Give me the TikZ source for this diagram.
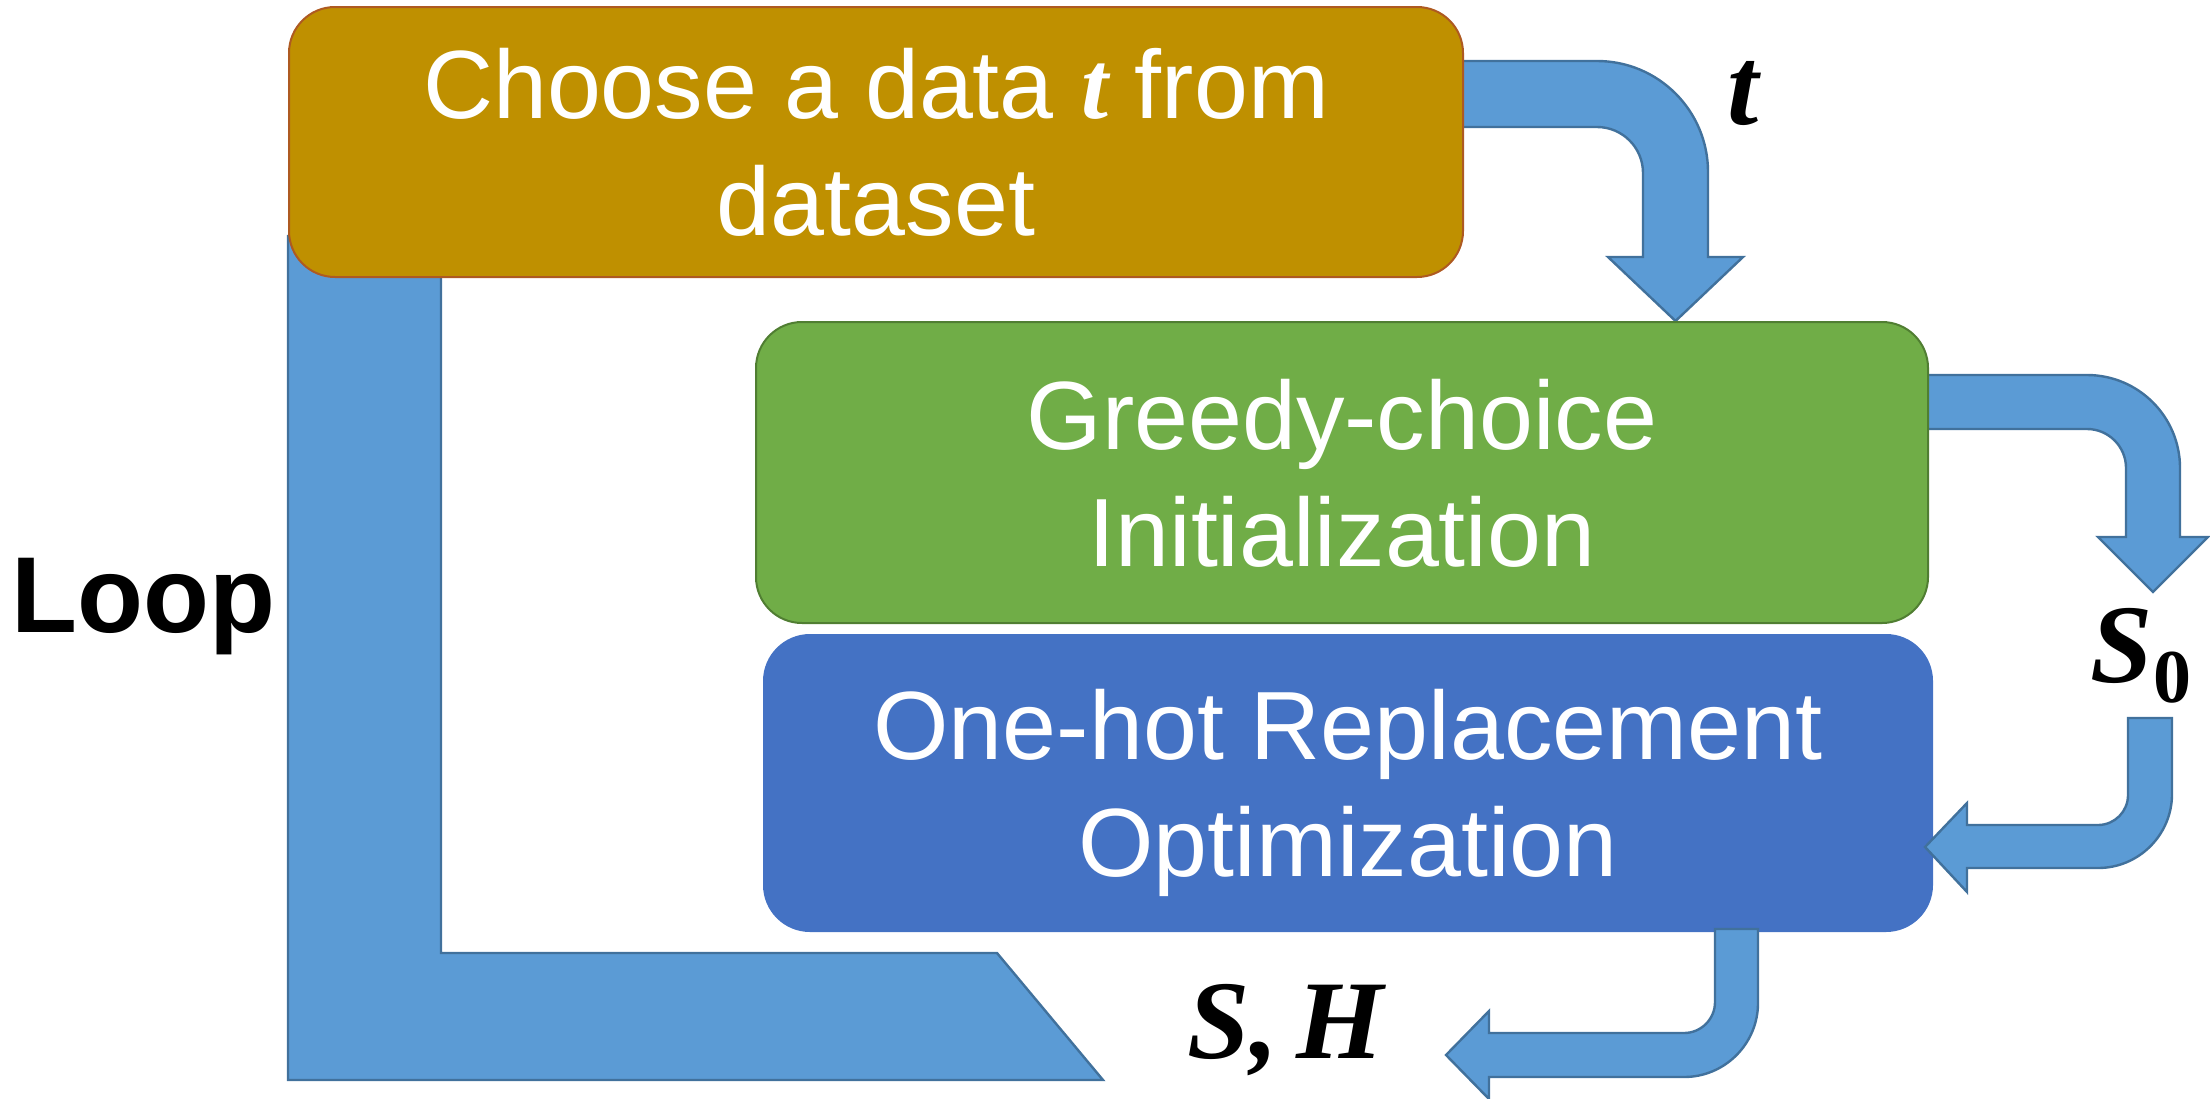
\documentclass[tikz,border=0pt]{standalone}
\usepackage{fontspec}
\setmainfont{Liberation Sans}
\newfontfamily\varfont{Liberation Serif}
\usetikzlibrary{backgrounds,calc}

\definecolor{goldfill}{HTML}{BF9000}
\definecolor{goldline}{HTML}{AE5A21}
\definecolor{greenfill}{HTML}{70AD47}
\definecolor{greenline}{HTML}{507E32}
\definecolor{bluefill}{HTML}{4472C4}
\definecolor{arrowfill}{HTML}{5B9BD5}
\definecolor{arrowline}{HTML}{41719C}

\begin{document}
\begin{tikzpicture}[x=0.5pt,y=-0.5pt,
  stage/.style={rectangle, rounded corners=23pt, line width=1pt, text=white,
    align=center, font=\fontsize{48.5}{58.5}\selectfont, text depth=0pt, inner sep=0pt},
  bent/.style={fill=arrowfill, draw=arrowline, line width=1.2pt, line join=miter},
  var/.style={font=\varfont\bfseries\itshape\fontsize{56}{60}\selectfont,
    inner sep=0pt, anchor=base},
]
\useasboundingbox (0,0) rectangle (2210,1098);

% process stages
\node[stage, fill=goldfill, draw=goldline, minimum width=587pt, minimum height=135pt]
  (choose) at (876,142) {Choose a data {\varfont\bfseries\itshape t} from\\dataset};
\node[stage, fill=greenfill, draw=greenline, minimum width=586pt, minimum height=150.5pt]
  (greedy) at (1342,472.5) {Greedy-choice\\Initialization};
\node[stage, fill=bluefill, draw=bluefill, minimum width=584pt, minimum height=148pt]
  (onehot) at (1348,783) {One-hot Replacement\\Optimization};

% loop band and arrows leaving the stages (behind the boxes)
\begin{scope}[on background layer]
  \draw[bent] (choose.west |- 0,236) -- (choose.west |- 0,1080) -- (1103,1080)
    -- (997,953) -- (441,953) -- (441,236) -- cycle;
  \draw[bent] ($(choose.east |- 0,61)+(-12,0)$) -- (1597,61)
    .. controls (1658.3,61) and (1708,110.7) .. (1708,172) -- (1708,257)
    -- (1743,257) -- (greedy.north -| 1675.5,0) -- (1608,257) -- (1643,257)
    -- (1643,173) .. controls (1643,147.6) and (1622.4,127) .. (1597,127)
    -- ($(choose.east |- 0,127)+(-12,0)$) -- cycle;
  \coordinate (s0tip) at (2153,592);
  \draw[bent] ($(greedy.east |- 0,375)+(-12,0)$) -- (2087,375)
    .. controls (2138.3,375) and (2180,416.7) .. (2180,468) -- (2180,537)
    -- (2208,537) -- (s0tip) -- (2098,537) -- (2126,537)
    -- (2126,468) .. controls (2126,446.5) and (2108.5,429) .. (2087,429)
    -- ($(greedy.east |- 0,429)+(-12,0)$) -- cycle;
\end{scope}

% arrow feeding S0 into the second stage
\coordinate (s0start) at (2128,718);
\draw[bent] (s0start) -- (2172,718) -- (2172,794)
  .. controls (2172,834.8) and (2138.8,868) .. (2098,868) -- (1967,868)
  -- (1967,892) -- ($(onehot.east |- 0,847)+(-8,0)$) -- (1967,803) -- (1967,825)
  -- (2098,825) .. controls (2114.6,825) and (2128,811.6) .. (2128,795) -- cycle;

% arrow delivering S, H
\coordinate (shtip) at (1446,1055);
\draw[bent] ($(onehot.south -| 1715,0)+(0,-3)$) -- ($(onehot.south -| 1758,0)+(0,-3)$)
  -- (1758,1003) .. controls (1758,1043.8) and (1724.8,1077) .. (1684,1077)
  -- (1489,1077) -- (1489,1099) -- (shtip) -- (1489,1011) -- (1489,1033)
  -- (1684,1033) .. controls (1701.1,1033) and (1715,1019.1) .. (1715,1002) -- cycle;

% labels
\node[var] (tlab) at (1743,124) {t};
\node[var] (s0lab) at (2141,682)
  {S\raisebox{-10pt}{\upshape\fontsize{38}{38}\selectfont 0}};
\node[var] (shlab) at (1286,1058) {S,\,H};
\node[font=\bfseries\fontsize{54}{60}\selectfont, anchor=base, inner sep=0pt]
  (looplab) at (143,632) {Loop};
\end{tikzpicture}
\end{document}
